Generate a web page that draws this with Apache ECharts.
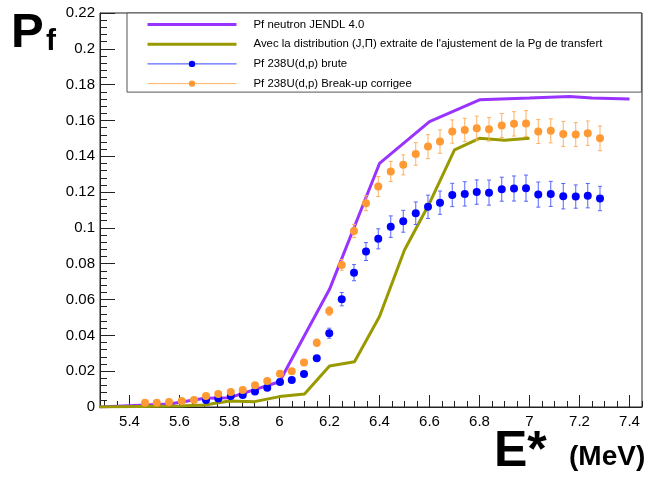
<!DOCTYPE html>
<html><head><meta charset="utf-8">
<script src="https://cdn.jsdelivr.net/npm/echarts@6/dist/echarts.min.js"></script>
<style>html,body{margin:0;padding:0;background:#fff}#c{width:650px;height:477px}</style>
</head><body><div id="c"></div>
<script>
// ---- data ----
const jendlE  = [5.28, 5.56, 5.70, 5.80, 6.00, 6.20, 6.40, 6.60, 6.80, 7.00, 7.16, 7.25, 7.40];
const jendlPf = [0, 0.0017, 0.0049, 0.0052, 0.0141, 0.0657, 0.1360, 0.1594, 0.1715, 0.1725, 0.1734, 0.1725, 0.1720];

const jpiE  = [5.28, 5.60, 5.70, 5.80, 5.90, 6.00, 6.10, 6.20, 6.30, 6.40, 6.50, 6.60, 6.70, 6.80, 6.90, 7.00];
const jpiPf = [0, 0.0005, 0.0011, 0.0034, 0.0030, 0.0058, 0.0073, 0.0229, 0.0253, 0.0505, 0.0877, 0.1138, 0.1436, 0.1500, 0.1490, 0.1500];

const bruteE   = [5.706,5.755,5.805,5.853,5.902,5.951,6.002,6.049,6.098,6.149,6.199,6.249,6.298,6.346,6.395,6.445,6.495,6.545,6.594,6.642,6.691,6.741,6.789,6.838,6.889,6.938,6.986,7.035,7.085,7.135,7.185,7.233,7.282];
const brutePf  = [0.0039,0.0048,0.0061,0.0067,0.0086,0.0108,0.0139,0.0151,0.0184,0.0272,0.0412,0.0602,0.0750,0.0868,0.0939,0.1007,0.1037,0.1082,0.1118,0.1141,0.1184,0.1190,0.1200,0.1197,0.1216,0.1220,0.1222,0.1186,0.1190,0.1177,0.1175,0.1180,0.1164];
const bruteErr = [0.0008,0.0008,0.0008,0.0008,0.0008,0.0008,0.0008,0.0008,0.0010,0.0015,0.0028,0.0037,0.0045,0.0050,0.0056,0.0060,0.0061,0.0063,0.0065,0.0065,0.0065,0.0068,0.0068,0.0070,0.0067,0.0070,0.0073,0.0070,0.0070,0.0071,0.0065,0.0068,0.0068];

const corrE   = [5.462,5.509,5.558,5.609,5.658,5.706,5.755,5.805,5.853,5.902,5.951,6.002,6.049,6.098,6.149,6.199,6.249,6.298,6.346,6.395,6.445,6.495,6.545,6.594,6.642,6.691,6.741,6.789,6.838,6.889,6.938,6.986,7.035,7.085,7.135,7.185,7.233,7.282];
const corrPf  = [0.0024,0.0024,0.0028,0.0034,0.0039,0.0061,0.0073,0.0084,0.0095,0.0121,0.0145,0.0186,0.0200,0.0248,0.0359,0.0536,0.0793,0.0983,0.1138,0.1231,0.1315,0.1352,0.1413,0.1454,0.1482,0.1538,0.1547,0.1557,0.1551,0.1572,0.1581,0.1583,0.1538,0.1542,0.1525,0.1521,0.1529,0.1500];
const corrErr = [0.0008,0.0008,0.0008,0.0008,0.0008,0.0008,0.0008,0.0008,0.0008,0.0008,0.0008,0.0008,0.0008,0.0008,0.0020,0.0024,0.0030,0.0037,0.0042,0.0056,0.0056,0.0056,0.0063,0.0067,0.0065,0.0065,0.0065,0.0067,0.0066,0.0067,0.0068,0.0072,0.0067,0.0067,0.0070,0.0067,0.0068,0.0069];

const xTickLabels = [5.4, 5.6, 5.8, 6, 6.2, 6.4, 6.6, 6.8, 7, 7.2, 7.4];

const names = [
  'Pf neutron JENDL 4.0',
  "Avec la distribution (J,\u03A0) extraite de l'ajustement de la Pg de transfert",
  'Pf 238U(d,p) brute',
  'Pf 238U(d,p) Break-up corrigee'
];

// ---- build ----
const zip = (a, b) => a.map((v, i) => [v, b[i]]);
const zip3 = (a, b, c) => a.map((v, i) => [v, b[i], c[i]]);
const X_MIN = 5.282, X_MAX = 7.45;
const minorX = [];
for (let v = 5.3; v <= 7.45 + 1e-9; v += 0.05) minorX.push(+v.toFixed(2));

function errRender(color) {
  return function (params, api) {
    const x = api.value(0), y = api.value(1), e = api.value(2);
    const p0 = api.coord([x, y - e]), p1 = api.coord([x, y + e]);
    const cw = 2;
    const st = { stroke: color, lineWidth: 1 };
    return { type: 'group', children: [
      { type: 'line', shape: { x1: p0[0], y1: p0[1], x2: p1[0], y2: p1[1] }, style: st },
      { type: 'line', shape: { x1: p0[0] - cw, y1: p0[1], x2: p0[0] + cw, y2: p0[1] }, style: st },
      { type: 'line', shape: { x1: p1[0] - cw, y1: p1[1], x2: p1[0] + cw, y2: p1[1] }, style: st }
    ]};
  };
}

const FONT = 'Liberation Sans';
const chart = echarts.init(document.getElementById('c'), null, { renderer: 'canvas' });
chart.setOption({
  animation: false,
  backgroundColor: '#fff',
  grid: { left: 100, right: 8, top: 13, bottom: 70, show: true, borderColor: '#222', borderWidth: 1, backgroundColor: 'transparent' },
  xAxis: [
    { type: 'value', min: X_MIN, max: X_MAX,
      axisLine: { lineStyle: { color: '#222', width: 1 } },
      axisTick: { inside: true, length: 12, customValues: xTickLabels, lineStyle: { color: '#222' } },
      axisLabel: { customValues: xTickLabels, color: '#000', fontSize: 15, fontFamily: FONT, margin: 7 },
      splitLine: { show: false } },
    { type: 'value', min: X_MIN, max: X_MAX, position: 'bottom',
      axisLine: { show: false },
      axisTick: { inside: true, length: 6, customValues: minorX, lineStyle: { color: '#222' } },
      axisLabel: { show: false },
      splitLine: { show: false } }
  ],
  yAxis: {
    type: 'value', min: 0, max: 0.22, interval: 0.02,
    axisLine: { show: true, lineStyle: { color: '#222', width: 1 } },
    axisTick: { inside: true, length: 15, lineStyle: { color: '#222' } },
    minorTick: { show: true, splitNumber: 5, length: 7, lineStyle: { color: '#222' } },
    axisLabel: { color: '#000', fontSize: 15, fontFamily: FONT, margin: 5 },
    splitLine: { show: false }
  },
  legend: {
    orient: 'vertical', left: 127, top: 13,
    itemWidth: 89, itemHeight: 8, itemGap: 8.7,
    padding: [6, 39, 3, 19],
    borderColor: '#555', borderWidth: 1, backgroundColor: '#fff',
    selectedMode: false,
    textStyle: { fontSize: 11.4, fontFamily: FONT, color: '#000', padding: [0, 0, 0, 12] },
    data: [
      { name: names[0], itemStyle: { opacity: 0 }, lineStyle: { opacity: 1, width: 3, color: '#9933ff' } },
      { name: names[1], itemStyle: { opacity: 0 }, lineStyle: { opacity: 1, width: 3, color: '#999900' } },
      { name: names[2], lineStyle: { width: 1, opacity: 1, color: '#3344ff' } },
      { name: names[3], lineStyle: { width: 1, opacity: 1, color: '#ffb366' } }
    ]
  },
  series: [
    { name: names[0], type: 'line', data: zip(jendlE, jendlPf), symbol: 'none', z: 2,
      lineStyle: { color: '#9933ff', width: 3 }, itemStyle: { color: '#9933ff' } },
    { name: names[1], type: 'line', data: zip(jpiE, jpiPf), symbol: 'none', z: 2,
      lineStyle: { color: '#999900', width: 3 }, itemStyle: { color: '#999900' } },
    { type: 'custom', data: zip3(bruteE, brutePf, bruteErr), renderItem: errRender('#5566ff'), z: 3, encode: { x: 0, y: 1 } },
    { name: names[2], type: 'line', data: zip(bruteE, brutePf), symbol: 'circle', symbolSize: 8, showAllSymbol: true, z: 4,
      lineStyle: { width: 0, opacity: 0, color: '#3344ff' }, itemStyle: { color: '#0000ff' } },
    { type: 'custom', data: zip3(corrE, corrPf, corrErr), renderItem: errRender('#ffb060'), z: 5, encode: { x: 0, y: 1 } },
    { name: names[3], type: 'line', data: zip(corrE, corrPf), symbol: 'circle', symbolSize: 8, showAllSymbol: true, z: 6,
      lineStyle: { width: 0, opacity: 0, color: '#ffb366' }, itemStyle: { color: '#ff9933' } }
  ],
  graphic: [
    { type: 'text', x: 11, y: 9, style: { text: 'P', fontFamily: FONT, fontWeight: 'bold', fontSize: 49, fill: '#000' } },
    { type: 'text', x: 46, y: 27, style: { text: 'f', fontFamily: FONT, fontWeight: 'bold', fontSize: 30, fill: '#000' } },
    { type: 'text', x: 494, y: 427, style: { text: 'E*', fontFamily: FONT, fontWeight: 'bold', fontSize: 50, fill: '#000' } },
    { type: 'text', x: 569, y: 443, style: { text: '(MeV)', fontFamily: FONT, fontWeight: 'bold', fontSize: 28, fill: '#000' } }
  ]
});
</script></body></html>
